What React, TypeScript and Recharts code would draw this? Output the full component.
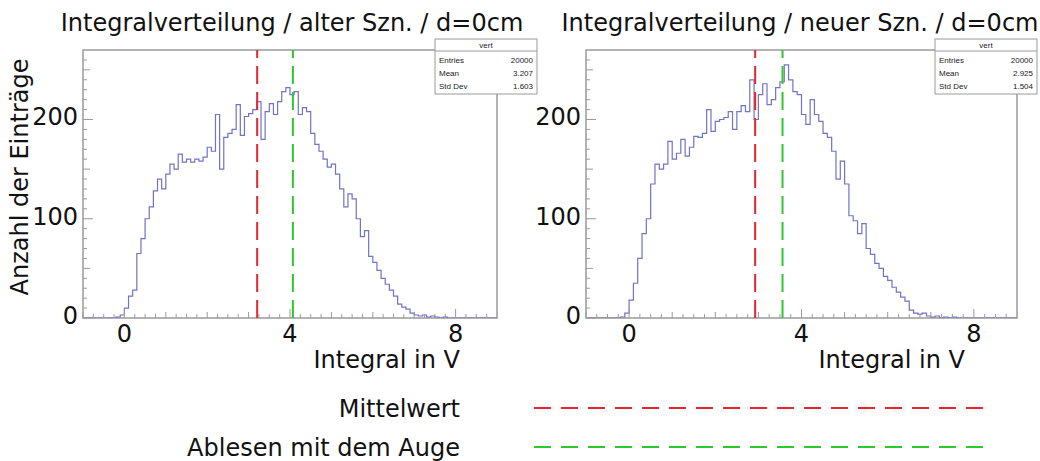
import React from 'react';
import { ComposedChart, Line, XAxis, YAxis, ReferenceLine, ReferenceArea } from 'recharts';

// Histogram definition: 100 bins from -1 V to 9 V
const BIN_LOW = -1;
const BIN_WIDTH = 0.1;

// Counts per bin, "alter Szintillator"
const oldCounts = [
  0, 0, 0, 0, 0, 0, 0, 0, 1, 3,
  10, 22, 28, 65, 80, 100, 112, 128, 140, 130,
  145, 155, 150, 165, 157, 160, 157, 160, 158, 162,
  172, 168, 205, 150, 182, 186, 190, 215, 184, 203,
  206, 210, 218, 180, 208, 216, 205, 218, 228, 232,
  225, 228, 205, 212, 208, 186, 175, 168, 160, 152,
  155, 145, 130, 112, 125, 120, 100, 82, 88, 62,
  56, 48, 40, 34, 28, 22, 14, 11, 9, 5,
  3, 2, 3, 1, 2, 1, 0, 1, 0, 0,
  0, 0, 0, 0, 0, 0, 0, 0, 0, 0,
];

// Counts per bin, "neuer Szintillator"
const newCounts = [
  0, 0, 0, 0, 0, 0, 0, 0, 1, 5,
  18, 35, 60, 85, 100, 135, 155, 150, 155, 178,
  160, 166, 180, 163, 172, 183, 182, 186, 210, 188,
  198, 200, 202, 208, 190, 208, 214, 208, 240, 200,
  225, 236, 215, 220, 232, 238, 255, 240, 228, 225,
  205, 195, 220, 205, 198, 186, 182, 168, 140, 158,
  135, 103, 98, 85, 95, 70, 64, 55, 50, 42,
  38, 31, 26, 21, 17, 8, 5, 4, 5, 2,
  1, 2, 0, 1, 0, 1, 0, 0, 0, 0,
  0, 0, 0, 0, 0, 0, 0, 0, 0, 0,
];

const titles = ['Integralverteilung / alter Szn. / d=0cm', 'Integralverteilung / neuer Szn. / d=0cm'];
const yTitle = 'Anzahl der Einträge';
const xTitle = 'Integral in V';

const xDomain: [number, number] = [-1, 9];
const yDomain: [number, number] = [0, 270];
const xMajorTicks = [0, 4, 8];
const xTicks = [
  -1, -0.75, -0.5, -0.25, 0, 0.25, 0.5, 0.75, 1, 1.25, 1.5, 1.75, 2, 2.25, 2.5, 2.75,
  3, 3.25, 3.5, 3.75, 4, 4.25, 4.5, 4.75, 5, 5.25, 5.5, 5.75, 6, 6.25, 6.5, 6.75,
  7, 7.25, 7.5, 7.75, 8, 8.25, 8.5, 8.75,
];
const yMajorTicks = [0, 100, 200];
const yTicks = [0, 10, 20, 30, 40, 50, 60, 70, 80, 90, 100, 110, 120, 130, 140, 150, 160, 170, 180, 190, 200, 210, 220, 230, 240, 250, 260];

const meanOld = 3.207;
const eyeOld = 4.07;
const meanNew = 2.925;
const eyeNew = 3.56;

const statLabels = ['Entries', 'Mean', 'Std Dev'];
const statsOld = ['20000', '3.207', '1.603'];
const statsNew = ['20000', '2.925', '1.504'];
const statsName = 'vert';

const legendLabels = ['Mittelwert', 'Ablesen mit dem Auge'];

const RED = '#e5262e';
const GREEN = '#2ec82e';
const HIST = '#7073c6';
const FRAME = '#9a9a9a';
const FONT = '"DejaVu Sans", sans-serif';
const FS = 24;

function toData(counts: number[]) {
  const d = counts.map((c, i) => ({ x: +(BIN_LOW + i * BIN_WIDTH).toFixed(2), y: c }));
  d.push({ x: +(BIN_LOW + counts.length * BIN_WIDTH).toFixed(2), y: counts[counts.length - 1] });
  return d;
}

const XTick = (props: any) => {
  const { x, y, payload } = props;
  const v = payload.value as number;
  const major = xMajorTicks.includes(v);
  const mid = !major && Number.isInteger(v);
  const len = major ? 9 : mid ? 6 : 4;
  return (
    <g>
      <line x1={x} x2={x} y1={y} y2={y - len} stroke={FRAME} strokeWidth={1} />
      {major && (
        <text x={x} y={y + 24} textAnchor="middle" fontSize={FS} fontFamily={FONT} fill="#111">
          {v}
        </text>
      )}
    </g>
  );
};

const YTick = (props: any) => {
  const { x, y, payload } = props;
  const v = payload.value as number;
  const major = yMajorTicks.includes(v);
  const mid = !major && v % 50 === 0;
  const len = major ? 10 : mid ? 7 : 4;
  return (
    <g>
      <line x1={x} x2={x + len} y1={y} y2={y} stroke={FRAME} strokeWidth={1} />
      {major && (
        <text x={x - 5} y={y + 6} textAnchor="end" fontSize={FS} fontFamily={FONT} fill="#111">
          {v}
        </text>
      )}
    </g>
  );
};

function Hist({ counts, mean, eye, yAxisWidth }: { counts: number[]; mean: number; eye: number; yAxisWidth: number }) {
  const data = toData(counts);
  return (
    <ComposedChart width={520} height={380} data={data} margin={{ top: 50, right: 23, bottom: 0, left: 0 }}>
      <XAxis
        type="number"
        dataKey="x"
        domain={xDomain}
        ticks={xTicks}
        interval={0}
        tickSize={0}
        tickMargin={0}
        tickLine={false}
        axisLine={false}
        tick={XTick}
        height={62}
        allowDataOverflow
      />
      <YAxis
        type="number"
        domain={yDomain}
        ticks={yTicks}
        interval={0}
        tickSize={0}
        tickMargin={0}
        tickLine={false}
        axisLine={false}
        tick={YTick}
        width={yAxisWidth}
        allowDataOverflow
      />
      <ReferenceArea x1={xDomain[0]} x2={xDomain[1]} y1={yDomain[0]} y2={yDomain[1]} fill="none" fillOpacity={0} stroke={FRAME} strokeWidth={1.5} />
      <Line type="stepAfter" dataKey="y" stroke={HIST} strokeWidth={1.2} dot={false} isAnimationActive={false} />
      <ReferenceLine x={mean} stroke={RED} strokeWidth={2} strokeDasharray="18 8" />
      <ReferenceLine x={eye} stroke={GREEN} strokeWidth={2} strokeDasharray="18 8" />
    </ComposedChart>
  );
}

function StatsBox({ x, values }: { x: number; values: string[] }) {
  const w = 102;
  const top = 39;
  return (
    <g fontFamily='"Liberation Sans", Arial, sans-serif' fontSize={8} fill="#222">
      <rect x={x} y={top} width={w} height={55} fill="#fff" stroke={FRAME} strokeWidth={1} />
      <line x1={x} x2={x + w} y1={top + 12} y2={top + 12} stroke={FRAME} strokeWidth={1} />
      <text x={x + w / 2} y={top + 9} textAnchor="middle">{statsName}</text>
      {statLabels.map((l, i) => (
        <g key={l}>
          <text x={x + 4} y={top + 24 + i * 13}>{l}</text>
          <text x={x + w - 4} y={top + 24 + i * 13} textAnchor="end">{values[i]}</text>
        </g>
      ))}
    </g>
  );
}

export default function App() {
  return (
    <div style={{ position: 'absolute', left: 0, top: 0, width: 1040, height: 461, background: '#fff', overflow: 'hidden' }}>
      <div style={{ position: 'absolute', left: 0, top: 0 }}>
        <Hist counts={oldCounts} mean={meanOld} eye={eyeOld} yAxisWidth={83} />
      </div>
      <div style={{ position: 'absolute', left: 520, top: 0 }}>
        <Hist counts={newCounts} mean={meanNew} eye={eyeNew} yAxisWidth={66} />
      </div>
      <svg width={1040} height={461} style={{ position: 'absolute', left: 0, top: 0, pointerEvents: 'none' }}>
        <g fontFamily={FONT} fontSize={FS} fill="#111">
          <text x={292} y={31} textAnchor="middle">{titles[0]}</text>
          <text x={800} y={31} textAnchor="middle">{titles[1]}</text>
          <text transform="translate(28,177) rotate(-90)" textAnchor="middle">{yTitle}</text>
          <text x={460} y={368} textAnchor="end">{xTitle}</text>
          <text x={965} y={368} textAnchor="end">{xTitle}</text>
          <text x={460} y={417} textAnchor="end">{legendLabels[0]}</text>
          <text x={460} y={456} textAnchor="end">{legendLabels[1]}</text>
        </g>
        <line x1={534} x2={988} y1={408} y2={408} stroke={RED} strokeWidth={2} strokeDasharray="17 10" />
        <line x1={534} x2={988} y1={447} y2={447} stroke={GREEN} strokeWidth={2} strokeDasharray="17 10" />
        <StatsBox x={435} values={statsOld} />
        <StatsBox x={935} values={statsNew} />
      </svg>
    </div>
  );
}
